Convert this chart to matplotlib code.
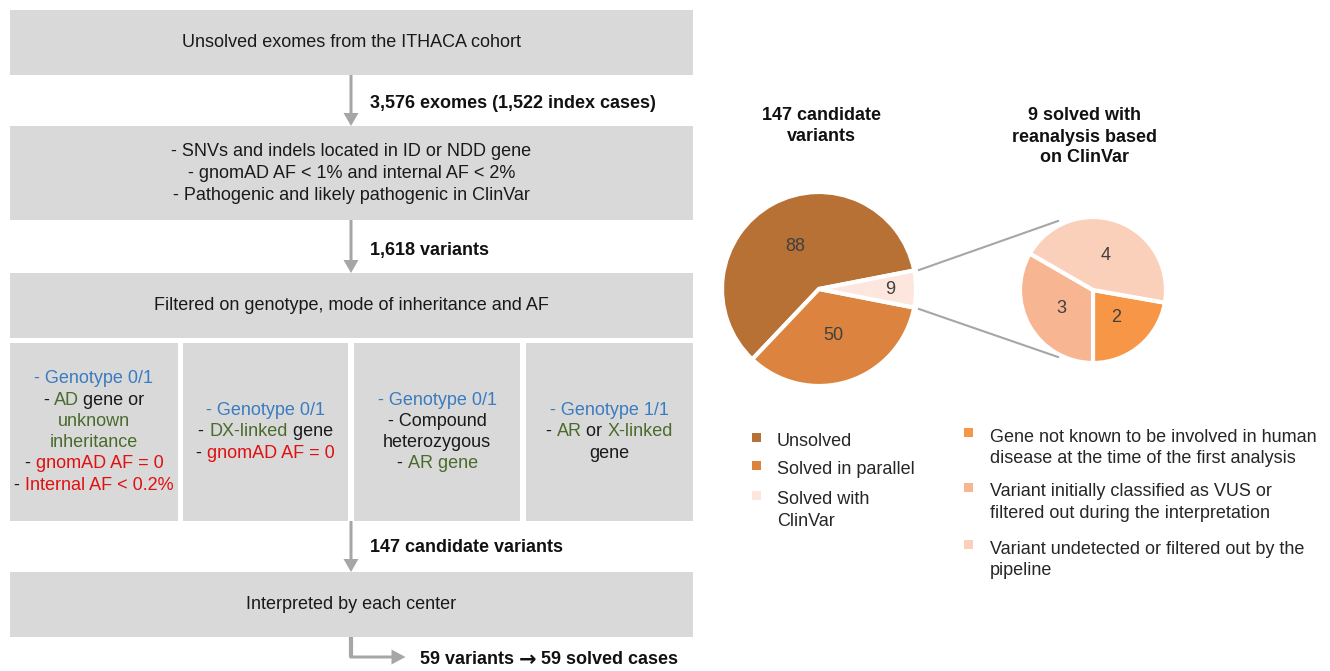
import matplotlib
matplotlib.use("Agg")
import matplotlib.pyplot as plt
import numpy as np
from matplotlib.patches import Rectangle, FancyArrow

plt.rcParams['font.family'] = ['Liberation Sans', 'DejaVu Sans']

# ---- data ----
step_texts = [
    ["Unsolved exomes from the ITHACA cohort"],
    ["- SNVs and indels located in ID or NDD gene",
     "- gnomAD AF < 1% and internal AF < 2%",
     "- Pathogenic and likely pathogenic in ClinVar"],
    ["Filtered on genotype, mode of inheritance and AF"],
    ["Interpreted by each center"],
]
step_counts = ["3,576 exomes (1,522 index cases)", "1,618 variants", "147 candidate variants"]
final_count = ["59 variants ", "\u2192", " 59 solved cases"]

# filter boxes: each line is a list of (text, kind)
filter_boxes = [
    [[("- Genotype 0/1", "geno")],
     [("- ", "k"), ("AD", "mode"), (" gene or", "k")],
     [("unknown", "mode")],
     [("inheritance", "mode")],
     [("- ", "k"), ("gnomAD AF = 0", "af")],
     [("- ", "k"), ("Internal AF < 0.2%", "af")]],
    [[("- Genotype 0/1", "geno")],
     [("- ", "k"), ("DX-linked", "mode"), (" gene", "k")],
     [("- ", "k"), ("gnomAD AF = 0", "af")]],
    [[("- Genotype 0/1", "geno")],
     [("- Compound", "k")],
     [("heterozygous", "k")],
     [("- ", "k"), ("AR gene", "mode")]],
    [[("- Genotype 1/1", "geno")],
     [("- ", "k"), ("AR", "mode"), (" or ", "k"), ("X-linked", "mode")],
     [("gene", "k")]],
]

main_title = ["147 candidate", "variants"]
main_labels = ["Unsolved", "Solved in parallel", "Solved with\nClinVar"]
main_values = [88, 50, 9]

sub_title = ["9 solved with", "reanalysis based", "on ClinVar"]
sub_labels = ["Gene not known to be involved in human\ndisease at the time of the first analysis",
              "Variant initially classified as VUS or\nfiltered out during the interpretation",
              "Variant undetected or filtered out by the\npipeline"]
sub_values = [2, 3, 4]

# ---- styles ----
kind_colors = {"k": "#1a1a1a", "geno": "#3a7cc0", "mode": "#4a6b2c", "af": "#e01010"}
box_color = "#d9d9d9"
arrow_color = "#a6a6a6"
main_colors = ["#b87135", "#dc843f", "#fde6dd"]
sub_colors = ["#f79646", "#f8b591", "#fbd0bb"]
FS = 13

W, H = 1330, 671
fig = plt.figure(figsize=(W / 100, H / 100), dpi=100)
ax = fig.add_axes([0, 0, 1, 1])
renderer = fig.canvas.get_renderer()


def Y(y):
    return H - y


def measure(s, size=FS, **kw):
    t = ax.text(0, 0, s, fontsize=size, **kw)
    w = t.get_window_extent(renderer).width
    t.remove()
    return w


def rich_line(cx, y, pieces):
    full = "".join(p[0] for p in pieces)
    x0 = cx - measure(full) / 2
    prefix = ""
    for txt, kind in pieces:
        off = 0 if prefix == "" else measure(prefix + "x") - measure("x")
        ax.text(x0 + off, Y(y), txt, fontsize=FS, color=kind_colors[kind],
                ha="left", va="center")
        prefix += txt


def box(x0, x1, y0, y1):
    ax.add_patch(Rectangle((x0, Y(y1)), x1 - x0, y1 - y0, facecolor=box_color,
                           edgecolor="none"))


def down_arrow(x, y0, y1):
    ax.add_patch(FancyArrow(x, Y(y0), 0, -(y1 - y0), width=3, head_width=15,
                            head_length=13, length_includes_head=True,
                            color=arrow_color, lw=0))


# ---- flowchart ----
bx0, bx1 = 10, 693
cx = (bx0 + bx1) / 2
step_boxes = [(10, 75), (126, 220), (273, 338), (572, 637)]
for (y0, y1), lines in zip(step_boxes, step_texts):
    box(bx0, bx1, y0, y1)
    yc = (y0 + y1) / 2
    n = len(lines)
    for i, line in enumerate(lines):
        yy = yc + (i - (n - 1) / 2) * 22
        ax.text(cx, Y(yy), line, fontsize=FS, color="#1a1a1a", ha="center", va="center")

arrow_spans = [(75, 126, 104), (220, 273, 251), (521, 572, 548)]
for (y0, y1, ly), lab in zip(arrow_spans, step_counts):
    down_arrow(351, y0, y1)
    ax.text(370, Y(ly), lab, fontsize=FS, fontweight="bold", color="#111111",
            ha="left", va="center")

# elbow arrow at the bottom
ax.plot([351, 351], [Y(637), Y(657)], color=arrow_color, lw=3, solid_capstyle="butt")
ax.add_patch(FancyArrow(349.5, Y(657), 56, 0, width=3, head_width=15, head_length=14,
                        length_includes_head=True, color=arrow_color, lw=0))
xx = 420
for k, part in enumerate(final_count):
    fam = ['DejaVu Sans'] if k == 1 else ['Liberation Sans', 'DejaVu Sans']
    sz = 15 if k == 1 else FS
    ax.text(xx, Y(660), part, fontsize=sz, fontweight="bold",
            color="#111111", ha="left", va="center", family=fam)
    xx += (measure(part + "x", size=sz, fontweight="bold", family=fam)
           - measure("x", size=sz, fontweight="bold", family=fam))

# filter boxes
fx = [(10, 178), (183, 348), (354, 520), (526, 693)]
fy0, fy1 = 343, 521
for (x0, x1), lines in zip(fx, filter_boxes):
    box(x0, x1, fy0, fy1)
    yc = (fy0 + fy1) / 2
    n = len(lines)
    for i, pieces in enumerate(lines):
        rich_line((x0 + x1) / 2, yc + (i - (n - 1) / 2) * 21.3, pieces)

# ---- pies ----
c1, r1 = (819, Y(289)), 97
c2, r2 = (1093, Y(290)), 73

w1, _ = ax.pie(main_values, colors=main_colors, startangle=11, counterclock=True,
               center=c1, radius=r1, explode=[0, 0, 0.03],
               wedgeprops=dict(edgecolor="white", linewidth=3), frame=True)
w2, _ = ax.pie(sub_values, colors=sub_colors, startangle=350, counterclock=False,
               center=c2, radius=r2,
               wedgeprops=dict(edgecolor="white", linewidth=3), frame=True)


def label_wedges(wedges, values, dists, r):
    for w, v, d in zip(wedges, values, dists):
        a = np.deg2rad((w.theta1 + w.theta2) / 2)
        x = w.center[0] + d * r * np.cos(a)
        y = w.center[1] + d * r * np.sin(a)
        ax.text(x, y, str(v), fontsize=FS, color="#404040", ha="center", va="center")


label_wedges(w1, main_values, [0.5, 0.5, 0.73], r1)
label_wedges(w2, sub_values, [0.5, 0.5, 0.5], r2)

# connector lines
ax.plot([919, 1058], [Y(270), Y(221)], color=arrow_color, lw=1.5)
ax.plot([919, 1058], [Y(309), Y(357)], color=arrow_color, lw=1.5)

# titles
for i, line in enumerate(main_title):
    ax.text(821, Y(115 + i * 21.5), line, fontsize=FS, fontweight="bold",
            color="#111111", ha="center", va="center")
for i, line in enumerate(sub_title):
    ax.text(1084, Y(116 + i * 21), line, fontsize=FS, fontweight="bold",
            color="#111111", ha="center", va="center")

# legends
for i, (lab, col) in enumerate(zip(main_labels, main_colors)):
    ys = [442, 470, 500][i]
    ax.add_patch(Rectangle((752, Y(ys)), 9, 9, facecolor=col, edgecolor="none"))
    for j, part in enumerate(lab.split("\n")):
        ax.text(777, Y(ys + j * 21), part, fontsize=FS, color="#262626",
                ha="left", va="center")

for i, (lab, col) in enumerate(zip(sub_labels, sub_colors)):
    ys = [437, 492, 549][i]
    ax.add_patch(Rectangle((964, Y(ys)), 9, 9.5, facecolor=col, edgecolor="none"))
    for j, part in enumerate(lab.split("\n")):
        ax.text(990, Y(ys + j * 21.5), part, fontsize=FS, color="#262626",
                ha="left", va="center")

ax.set_xlim(0, W)
ax.set_ylim(0, H)
ax.set_aspect("auto")
ax.axis("off")

fig.savefig("out.png", dpi=100, facecolor="white")
